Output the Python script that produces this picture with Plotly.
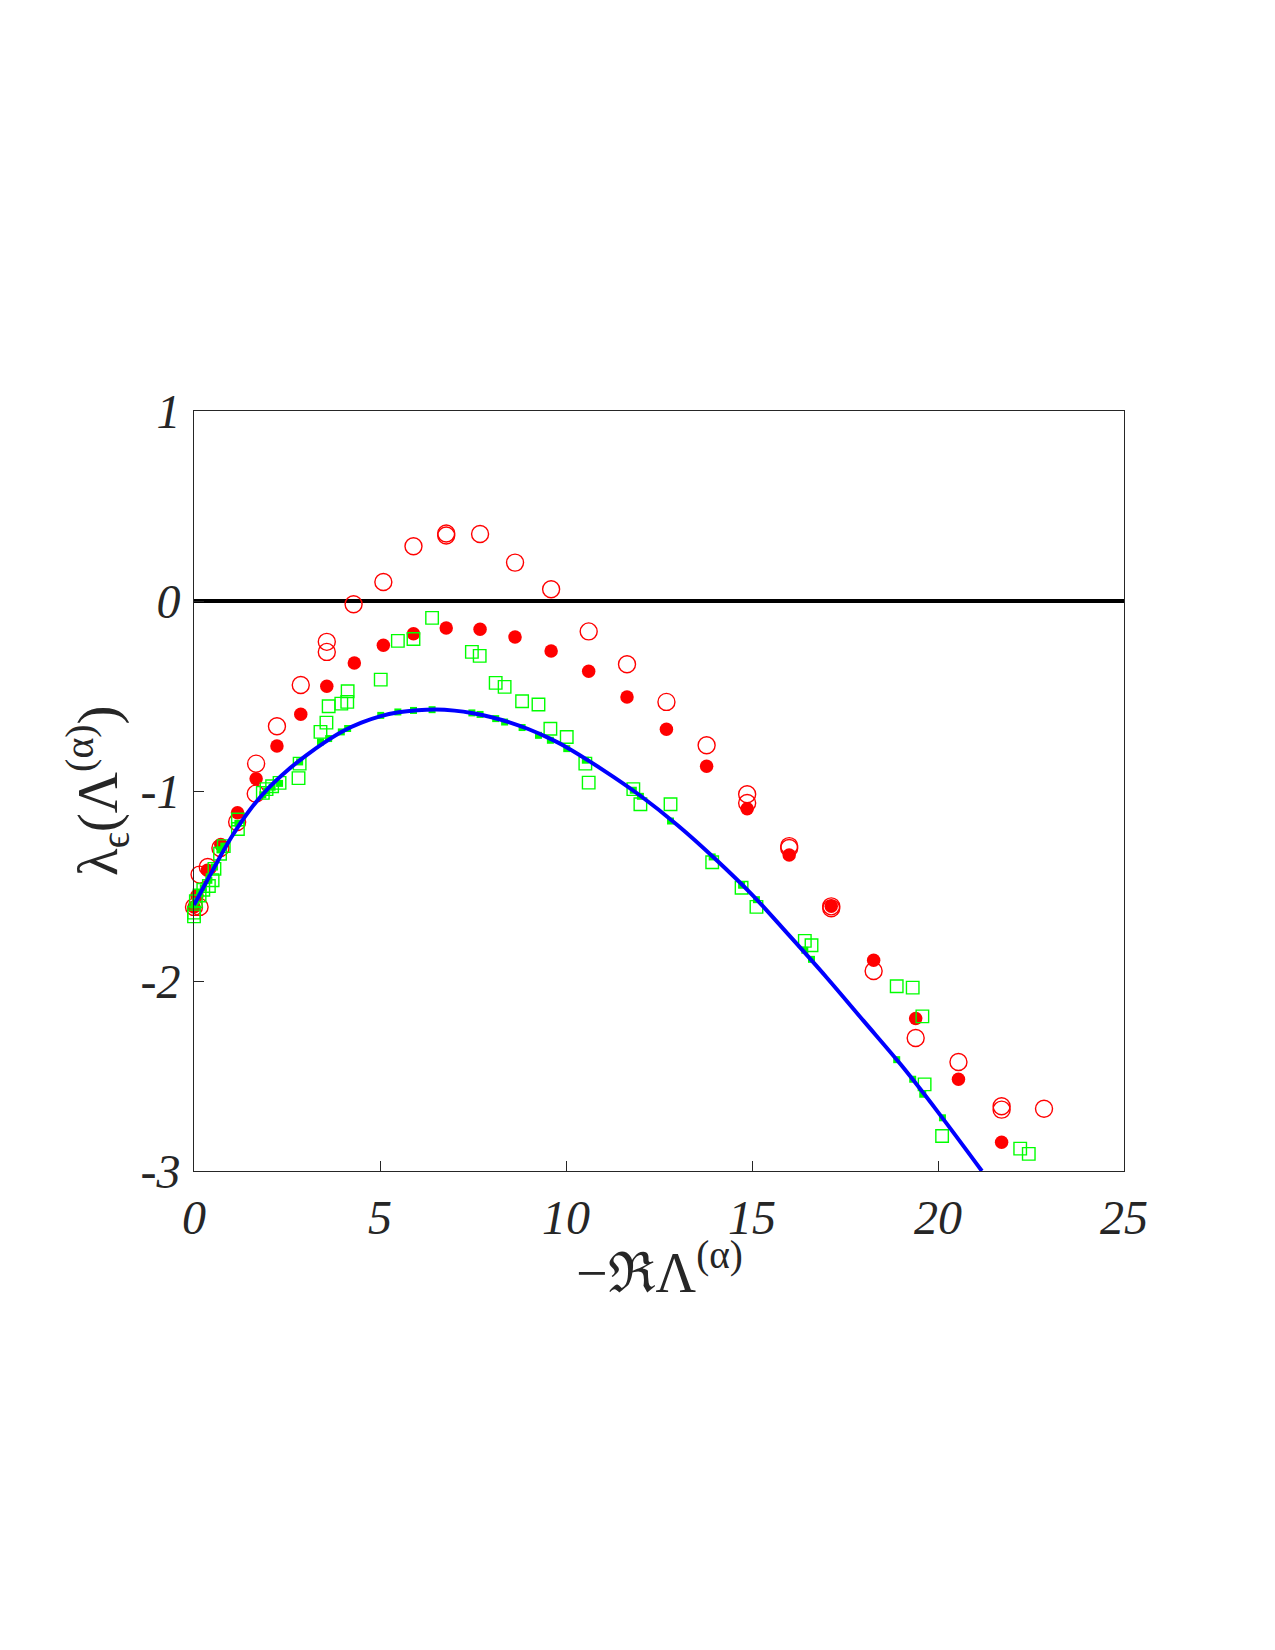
import plotly.graph_objects as go

# ---------------- data ----------------
red_open_x = [0.0, 0.15, 0.15, 0.37, 0.71, 1.16, 1.66, 1.67, 2.23, 2.87, 3.57, 3.57, 4.29, 5.09,
              5.90, 6.78, 6.78, 7.69, 8.63, 9.60, 10.61, 11.64, 12.70, 13.78, 14.87, 14.87,
              16.0, 16.0, 17.13, 17.13, 18.27, 19.40, 20.55, 21.71, 21.71, 22.85]
red_open_y = [-1.61, -1.61, -1.44, -1.40, -1.30, -1.163, -1.014, -0.856, -0.659, -0.442, -0.268, -0.215,
              -0.017, 0.100, 0.288, 0.345, 0.355, 0.353, 0.202, 0.062, -0.16, -0.333, -0.531, -0.759,
              -1.017, -1.063, -1.29, -1.30, -1.607, -1.617, -1.947, -2.30, -2.426, -2.659, -2.677, -2.672]

red_fill_x = [0.0, 0.08, 0.36, 0.72, 1.17, 1.67, 2.23, 2.87, 3.57, 4.31, 5.09, 5.90, 6.78, 7.69,
              8.63, 9.60, 10.61, 11.64, 12.70, 13.78, 14.87, 16.0, 17.13, 18.27, 19.40, 20.55, 21.71]
red_fill_y = [-1.61, -1.55, -1.417, -1.282, -1.114, -0.935, -0.763, -0.596, -0.449, -0.326, -0.233,
              -0.172, -0.142, -0.149, -0.19, -0.263, -0.37, -0.505, -0.675, -0.87, -1.093, -1.337,
              -1.607, -1.891, -2.197, -2.517, -2.849]

green_open_x = [0.0, 0.0, 0.05, 0.15, 0.25, 0.4, 0.5, 0.55, 0.7, 0.8, 1.18, 1.18, 1.85, 1.95, 2.1, 2.3,
                2.81, 2.84, 3.40, 3.56, 3.62, 3.96, 4.12, 4.13, 5.02, 5.48, 5.90, 6.40, 7.47, 7.68,
                8.11, 8.35, 8.82, 9.26, 9.58, 10.02, 10.52, 10.61, 11.81, 12.0, 12.81, 13.93, 14.72,
                15.12, 16.42, 16.60, 18.89, 19.32, 19.58, 19.64, 20.11, 22.21, 22.44]
green_open_y = [-1.66, -1.64, -1.58, -1.55, -1.52, -1.50, -1.47, -1.41, -1.33, -1.29, -1.20, -1.15,
                -1.01, -0.99, -0.975, -0.957, -0.932, -0.856, -0.689, -0.64, -0.554, -0.54, -0.531,
                -0.475, -0.414, -0.21, -0.2, -0.089, -0.268, -0.289, -0.431, -0.452, -0.528, -0.545,
                -0.672, -0.716, -0.856, -0.956, -0.99, -1.07, -1.07, -1.375, -1.509, -1.61, -1.789,
                -1.812, -2.028, -2.035, -2.186, -2.544, -2.816, -2.882, -2.91]

green_fill_x = [0.0, 0.05, 0.15, 0.25, 0.4, 0.55, 0.7, 0.8, 1.18, 1.85, 1.95, 2.1, 2.3, 2.84, 3.40,
                3.62, 3.96, 4.13, 5.02, 5.48, 5.90, 6.40, 7.47, 7.69, 8.11, 8.35, 8.82, 9.26, 9.58,
                10.02, 10.52, 11.81, 12.0, 12.81, 13.93, 14.72, 15.12, 16.42, 16.60, 18.89, 19.32,
                19.59, 20.12]
green_fill_y = [-1.60, -1.58, -1.54, -1.51, -1.47, -1.40, -1.31, -1.29, -1.17, -1.02, -1.0, -0.98,
                -0.96, -0.847, -0.742, -0.724, -0.689, -0.671, -0.602, -0.584, -0.576, -0.572, -0.589,
                -0.597, -0.619, -0.637, -0.666, -0.707, -0.733, -0.777, -0.838, -0.996, -1.028,
                -1.158, -1.347, -1.496, -1.572, -1.838, -1.886, -2.414, -2.517, -2.596, -2.72]

curve_x = [0, 0.5, 1, 1.5, 2, 2.5, 3, 3.5, 4, 4.5, 5, 5.5, 6, 6.5, 7, 7.5, 8, 8.5, 9, 9.5, 10,
           11, 12, 13, 14, 15, 16, 17, 18, 19, 20, 21.18]
curve_y = [-1.60, -1.418, -1.245, -1.10, -0.985, -0.893, -0.815, -0.745, -0.685, -0.640, -0.607,
           -0.586, -0.575, -0.571, -0.577, -0.591, -0.612, -0.640, -0.675, -0.718, -0.768,
           -0.89, -1.025, -1.18, -1.355, -1.545, -1.76, -1.98, -2.21, -2.44, -2.69, -3.0]

x_ticks = [0, 5, 10, 15, 20, 25]
x_ticktext = ["0", "5", "10", "15", "20", "25"]
y_ticks = [-3, -2, -1, 0, 1]
y_ticktext = ["-3", "-2", "-1", "0", "1"]

x_title = "\u2212\u211cΛ<sup>(α)</sup>"
y_title = "λ<sub>ϵ</sub>(Λ<sup>(α)</sup>)"

# ---------------- figure ----------------
fig = go.Figure()

fig.add_trace(go.Scatter(x=red_open_x, y=red_open_y, mode="markers", cliponaxis=False,
                         marker=dict(symbol="circle-open", size=17, color="#ff0000",
                                     line=dict(width=1.4, color="#ff0000"))))
fig.add_trace(go.Scatter(x=red_fill_x, y=red_fill_y, mode="markers", cliponaxis=False,
                         marker=dict(symbol="circle", size=13.5, color="#ff0000",
                                     line=dict(width=0))))
fig.add_trace(go.Scatter(x=green_open_x, y=green_open_y, mode="markers", cliponaxis=False,
                         marker=dict(symbol="square-open", size=12.5, color="#00ff00",
                                     line=dict(width=1.4, color="#00ff00"))))
fig.add_trace(go.Scatter(x=green_fill_x, y=green_fill_y, mode="markers", cliponaxis=False,
                         marker=dict(symbol="square", size=7, color="#00ff00",
                                     line=dict(width=0))))
fig.add_trace(go.Scatter(x=curve_x, y=curve_y, mode="lines",
                         line=dict(color="#0000ff", width=4, shape="spline", smoothing=1.0)))

axis_common = dict(
    showgrid=False, showline=True, linecolor="#262626", linewidth=1, mirror=True,
    ticks="inside", ticklen=10, tickwidth=1, tickcolor="#262626",
    tickfont=dict(family="Liberation Serif", size=48, color="#262626", style="italic"),
)

fig.update_xaxes(range=[0, 25], tickmode="array", tickvals=x_ticks, ticktext=x_ticktext,
                 zeroline=False, ticklabelstandoff=4, **axis_common)
fig.update_yaxes(range=[-3, 1], tickmode="array", tickvals=y_ticks, ticktext=y_ticktext,
                 zeroline=True, zerolinecolor="#000000", zerolinewidth=3.5,
                 ticklabelstandoff=3, **axis_common)

fig.update_layout(
    width=1275, height=1650, autosize=False,
    margin=dict(l=194, r=151, t=411, b=479, pad=0),
    paper_bgcolor="white", plot_bgcolor="white",
    showlegend=False,
    annotations=[
        dict(text=x_title, xref="paper", yref="paper", x=0.5, y=0, yshift=-97,
             xanchor="center", yanchor="middle", showarrow=False,
             font=dict(family="Liberation Serif", size=56, color="#262626")),
        dict(text=y_title, xref="paper", yref="paper", x=0, y=0.5, xshift=-97,
             xanchor="center", yanchor="middle", showarrow=False, textangle=-90,
             font=dict(family="Liberation Serif", size=57, color="#262626")),
    ],
)

fig.write_html("out.html")
